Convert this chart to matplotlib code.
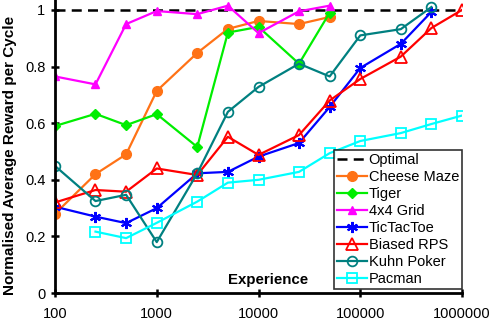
import matplotlib.pyplot as plt
import numpy as np

plt.rcParams['font.family'] = ['Liberation Sans', 'DejaVu Sans']

experience = [100, 250, 500, 1000, 2500, 5000, 10000, 25000, 50000,
              100000, 250000, 500000, 1000000]

cheese_maze = [0.28, 0.42, 0.49, 0.714, 0.848, 0.933, 0.961, 0.95, 0.975]
tiger = [0.59, 0.633, 0.593, 0.632, 0.516, 0.92, 0.94, 0.81, 0.99]
grid4x4 = [0.765, 0.737, 0.95, 0.996, 0.985, 1.015, 0.918, 0.995, 1.015]
tictactoe = [0.305, 0.27, 0.247, 0.30, 0.423, 0.428, 0.482, 0.53, 0.657,
             0.795, 0.88, 0.993]
biased_rps = [0.32, 0.364, 0.358, 0.44, 0.417, 0.552, 0.488, 0.558, 0.68,
              0.756, 0.835, 0.936, 1.0]
kuhn_poker = [0.449, 0.325, 0.347, 0.18, 0.423, 0.64, 0.728, 0.81, 0.765,
              0.91, 0.932, 1.01]
pacman = [0.217, 0.194, 0.248, 0.323, 0.39, 0.40, 0.428, 0.494, 0.537,
          0.565, 0.597, 0.627]

fig = plt.figure(figsize=(4.91, 3.26), dpi=100)
ax = fig.add_axes([0.112, 0.101, 0.829, 0.899])

lw = 1.6
ax.plot([experience[0], experience[-1]], [1, 1], color='black', ls=(0, (4, 2.5)),
        lw=1.8, label='Optimal')
ax.plot(experience[:len(cheese_maze)], cheese_maze, color='#FF7216', marker='o',
        ms=7, lw=lw, label='Cheese Maze')
ax.plot(experience[:len(tiger)], tiger, color='#00EE00', marker='D',
        ms=5, lw=lw, label='Tiger')
ax.plot(experience[:len(grid4x4)], grid4x4, color='#FF00FF', marker='^',
        ms=5.5, lw=lw, label='4x4 Grid')
ax.plot(experience[:len(tictactoe)], tictactoe, color='#0000FF', marker=(6, 2, 0),
        ms=8, mew=1.5, lw=lw, label='TicTacToe')
ax.plot(experience[:len(biased_rps)], biased_rps, color='#FF0000', marker='^',
        ms=8, mfc='none', mew=1.3, lw=lw, label='Biased RPS')
ax.plot(experience[:len(kuhn_poker)], kuhn_poker, color='#008080', marker='o',
        ms=7, mfc='none', mew=1.3, lw=lw, label='Kuhn Poker')
ax.plot(experience[1:1 + len(pacman)], pacman, color='#00FFFF', marker='s',
        ms=6.5, mfc='none', mew=1.3, lw=lw, label='Pacman')

ax.set_xscale('log')
ax.set_xlim(100, 1000000)
ax.set_ylim(0, 1.035)
ax.set_xticks([100, 1000, 10000, 100000, 1000000])
ax.set_xticklabels(['100', '1000', '10000', '100000', '1000000'])
ax.xaxis.set_minor_locator(plt.NullLocator())
ax.set_yticks([0, 0.2, 0.4, 0.6, 0.8, 1.0])
ax.set_yticklabels(['0', '0.2', '0.4', '0.6', '0.8', '1'])
ax.tick_params(direction='inout', length=6, width=1.8, labelsize=10.5)
ax.tick_params(axis='x', pad=7)
ax.tick_params(axis='y', pad=4)

for side in ['top', 'right']:
    ax.spines[side].set_visible(False)
for side in ['left', 'bottom']:
    ax.spines[side].set_linewidth(2)

ax.set_ylabel('Normalised Average Reward per Cycle', fontsize=11,
              fontweight='bold')
ax.yaxis.set_label_coords(-0.094, 0.47)
ax.text(0.523, 0.045, 'Experience', transform=ax.transAxes, fontsize=10.8,
        fontweight='bold', ha='center', va='center')

leg = ax.legend(loc='lower right', bbox_to_anchor=(1.0, 0.015), fontsize=10.5,
                frameon=True, fancybox=False, edgecolor='black',
                labelspacing=0.2, borderpad=0.2, handlelength=2.0,
                handletextpad=0.15, borderaxespad=0)
leg.get_frame().set_linewidth(1.2)

fig.savefig('out.png', dpi=100)
